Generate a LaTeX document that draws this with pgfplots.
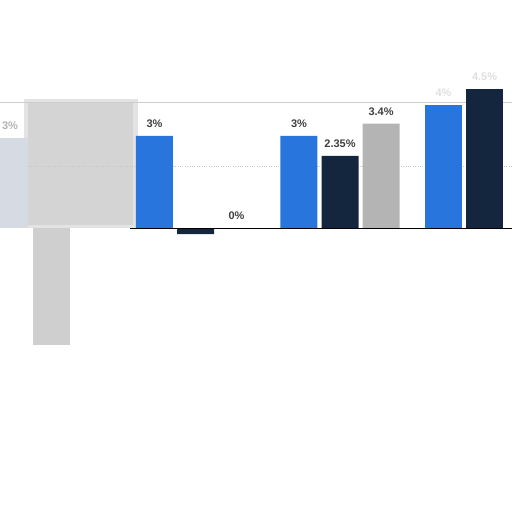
\documentclass[border=0pt]{standalone}
\usepackage{pgfplots}
\pgfplotsset{compat=1.18}
\usepackage{fontspec}
\setmainfont{Liberation Sans}

\definecolor{cblue}{HTML}{2876DD}
\definecolor{cnavy}{HTML}{14253E}
\definecolor{cgray}{HTML}{B4B4B4}
\definecolor{clabel}{HTML}{404040}
\definecolor{cfade}{HTML}{D6DBE3}

\begin{document}
\begin{tikzpicture}
\useasboundingbox (0,0) rectangle (512pt,512pt);
\begin{axis}[
    at={(0,0)}, anchor=south west,
    width=512pt, height=512pt, scale only axis,
    axis lines=none,
    xmin=-0.353, xmax=3.19,
    ymin=-9.25, ymax=7.43,
    ybar, bar width=0.256,
    point meta=explicit symbolic,
    nodes near coords,
    every node near coord/.append style={font=\fontsize{11}{12}\selectfont\bfseries, text=clabel, inner sep=0pt, yshift=8pt},
]
% blurred overlay at the left
\fill[gray!22] (axis cs:-0.19,0.0) rectangle (axis cs:0.6,4.2);
\fill[gray!34] (axis cs:-0.16,0.1) rectangle (axis cs:0.57,4.12);
% frame and grid
\draw[gray!40, line width=0.8pt] (axis cs:-0.353,4.1) -- (axis cs:3.19,4.1);
\draw[gray!45, dotted] (axis cs:-0.353,2) -- (axis cs:3.19,2);

% faded first group
\addplot[fill=cfade, draw=none, bar shift=-0.284,
    every node near coord/.append style={text=gray!60}]
    coordinates {(0,2.95) [3\%]};
\addplot[fill=gray!38, draw=none, bar shift=0,
    nodes near coords={}]
    coordinates {(0,-3.8) []};

% blue series
\addplot[fill=cblue, draw=none, bar shift=-0.284]
    coordinates {(1,3) [3\%] (2,3) [3\%]};
\addplot[fill=cblue, draw=none, bar shift=-0.284,
    every node near coord/.append style={text=gray!25}]
    coordinates {(3,4.0) [4\%]};
% navy series
\addplot[fill=cnavy, draw=none, bar shift=0]
    coordinates {(1,-0.2) [] (2,2.35) [2.35\%]};
\addplot[fill=cnavy, draw=none, bar shift=0,
    every node near coord/.append style={text=gray!25}]
    coordinates {(3,4.53) [4.5\%]};
% gray series
\addplot[fill=cgray, draw=none, bar shift=0.284]
    coordinates {(1,0) [0\%] (2,3.4) [3.4\%]};

\draw[black, line width=1pt] (axis cs:0.545,0) -- (axis cs:3.19,0);
\end{axis}
\end{tikzpicture}
\end{document}
